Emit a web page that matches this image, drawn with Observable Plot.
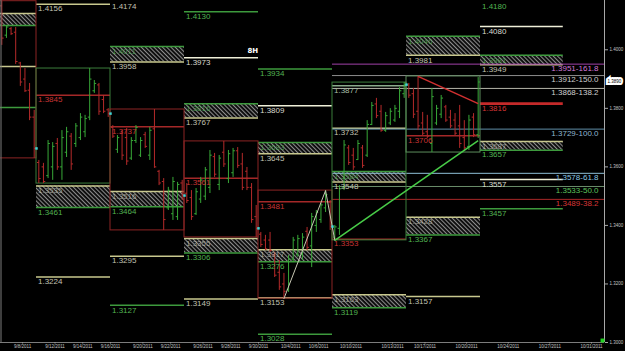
<!DOCTYPE html>
<html><head><meta charset="utf-8">
<script src="https://cdn.jsdelivr.net/npm/d3@7"></script>
<script src="https://cdn.jsdelivr.net/npm/@observablehq/plot@0.6"></script>
<style>
html,body{margin:0;padding:0;background:#000;overflow:hidden}
#chart{width:625px;height:351px}
</style></head><body><div id="chart"></div>
<script>
// ---------- DATA ----------
// 8H bars, bar index 0 = first bar of the week of 9/12/2011, 16 bars per week
const barFirst = -8;
const barOpen = [1.4150,1.4050,1.4072,1.4060,1.3955,1.3900,1.3862,1.3770,
 1.3615,1.3600,1.3570,1.3600,1.3680,1.3600,1.3650,1.3705,1.3680,1.3700,1.3720,1.3770,1.3860,1.3880,1.3830,1.3795,
 1.3735,1.3660,1.3715,1.3700,1.3630,1.3690,1.3640,1.3710,1.3640,1.3730,1.3585,1.3550,1.3460,1.3440,1.3430,1.3545,
 1.3510,1.3495,1.3440,1.3490,1.3500,1.3530,1.3635,1.3540,1.3650,1.3560,1.3580,1.3655,1.3610,1.3585,1.3530,1.3430,
 1.3370,1.3350,1.3350,1.3300,1.3240,1.3200,1.3180,1.3285,1.3300,1.3300,1.3380,1.3330,1.3400,1.3420,1.3460,1.3480,
 1.3360,1.3390,1.3530,1.3665,1.3640,1.3625,1.3665,1.3640,1.3745,1.3815,1.3790,1.3725,1.3750,1.3760,1.3790,1.3850,
 1.3880,1.3850,1.3790,1.3750,1.3720,1.3680,1.3750,1.3780,1.3805,1.3770,1.3760,1.3740,1.3700,1.3670,1.3770,1.3710];
const barHigh = [1.4166,1.4083,1.4076,1.4076,1.3957,1.3936,1.3885,1.3793,
 1.3622,1.3612,1.3690,1.3683,1.3697,1.3724,1.3735,1.3714,1.3748,1.3782,1.3776,1.3936,1.3895,1.3885,1.3844,1.3799,
 1.3741,1.3707,1.3724,1.3731,1.3700,1.3741,1.3700,1.3718,1.3735,1.3796,1.3588,1.3560,1.3530,1.3564,1.3547,1.3554,
 1.3543,1.3519,1.3526,1.3564,1.3598,1.3656,1.3646,1.3639,1.3687,1.3656,1.3663,1.3666,1.3646,1.3598,1.3543,1.3468,
 1.3376,1.3366,1.3376,1.3308,1.3280,1.3236,1.3297,1.3359,1.3366,1.3372,1.3393,1.3441,1.3451,1.3475,1.3519,1.3485,
 1.3400,1.3536,1.3690,1.3673,1.3663,1.3690,1.3673,1.3758,1.3820,1.3834,1.3810,1.3786,1.3799,1.3810,1.3871,1.3888,
 1.3885,1.3868,1.3909,1.3786,1.3776,1.3868,1.3810,1.3844,1.3810,1.3793,1.3782,1.3810,1.3758,1.3776,1.3782,1.3905];
const barLow = [1.4015,1.4039,1.4049,1.3950,1.3875,1.3854,1.3758,1.3629,
 1.3543,1.3543,1.3560,1.3554,1.3588,1.3554,1.3632,1.3588,1.3666,1.3690,1.3700,1.3758,1.3851,1.3776,1.3782,1.3769,
 1.3697,1.3646,1.3622,1.3605,1.3622,1.3680,1.3632,1.3663,1.3622,1.3595,1.3536,1.3383,1.3451,1.3417,1.3417,1.3485,
 1.3475,1.3417,1.3434,1.3475,1.3485,1.3509,1.3564,1.3519,1.3598,1.3543,1.3564,1.3595,1.3519,1.3519,1.3407,1.3359,
 1.3325,1.3314,1.3308,1.3222,1.3178,1.3150,1.3171,1.3273,1.3291,1.3280,1.3314,1.3256,1.3376,1.3407,1.3444,1.3383,
 1.3349,1.3366,1.3519,1.3605,1.3588,1.3622,1.3595,1.3632,1.3741,1.3765,1.3718,1.3718,1.3741,1.3752,1.3765,1.3834,
 1.3834,1.3765,1.3724,1.3707,1.3697,1.3649,1.3741,1.3765,1.3752,1.3731,1.3707,1.3663,1.3653,1.3656,1.3700,1.3697];
const barClose = [1.4040,1.4078,1.4055,1.3960,1.3890,1.3860,1.3770,1.3663,
 1.3560,1.3550,1.3680,1.3670,1.3600,1.3700,1.3720,1.3610,1.3740,1.3770,1.3765,1.3900,1.3885,1.3790,1.3790,1.3782,
 1.3705,1.3700,1.3640,1.3620,1.3690,1.3735,1.3690,1.3670,1.3725,1.3600,1.3545,1.3420,1.3520,1.3550,1.3540,1.3502,
 1.3485,1.3430,1.3515,1.3555,1.3590,1.3640,1.3575,1.3630,1.3610,1.3645,1.3655,1.3605,1.3530,1.3530,1.3420,1.3390,
 1.3335,1.3320,1.3315,1.3230,1.3190,1.3175,1.3285,1.3350,1.3355,1.3360,1.3325,1.3430,1.3445,1.3470,1.3505,1.3396,
 1.3395,1.3525,1.3675,1.3615,1.3600,1.3680,1.3605,1.3745,1.3810,1.3775,1.3725,1.3775,1.3790,1.3800,1.3860,1.3881,
 1.3845,1.3780,1.3740,1.3715,1.3705,1.3840,1.3800,1.3835,1.3760,1.3740,1.3715,1.3680,1.3665,1.3760,1.3710,1.3890];

const barsPerWeek = 16;
const projectionEnd = 113.9;          // weekly levels of the coming week end here
const weekIds  = [-1, 0, 1, 2, 3, 4, 5];
const weekTone = ["bear","bull","bear","bear","bear","bull","open"];

// weekly pivot levels (week id, price, kind)
const levelWeek  = [-1,-1, 0,0,0, 1,1,1,1, 2,2,2,2, 3,3,3,3,3, 4,4,4, 5,5, 6,6,6,6,6];
const levelPrice = [1.3943,1.3803, 1.4156,1.3845,1.3224, 1.4174,1.3737,1.3295,1.3127,
  1.4130,1.3973,1.3561,1.3149, 1.3934,1.3809,1.3481,1.3153,1.3028, 1.3877,1.3732,1.3353,
  1.3706,1.3157, 1.4180,1.4080,1.3816,1.3557,1.3457];
const levelKind  = ["yellow","green", "yellow","red","yellow", "yellow","red","yellow","green",
  "green","white","red","yellow", "green","white","red","yellow","green", "sage","yellow","red",
  "red","yellow", "green","white","redBold","white","green"];

// hatched zones (week id, top, bottom, kind of top line)
const zoneWeek   = [-1, 0, 1,1, 2,2, 3,3, 4,4, 5,5, 6,6];
const zoneTop    = [1.4124,1.3535,1.4011,1.3516,1.3816,1.3355,1.3683,1.3317,1.3584,1.3163,1.4046,1.3428,1.3981,1.3687];
const zoneBottom = [1.4083,1.3461,1.3958,1.3464,1.3767,1.3306,1.3645,1.3276,1.3548,1.3119,1.3981,1.3367,1.3949,1.3657];
const zoneTopKind = ["yellow","yellow","green","yellow","green","yellow","green","yellow","green","yellow","green","yellow","green","yellow"];
const zoneBotKind = zoneTopKind.map(k => k === "green" ? "yellow" : "green");

// Fibonacci extension
const fibRatio = ["161.8","150.0","138.2","100.0","61.8","50.0","38.2"];
const fibPrice = [1.3951,1.3912,1.3868,1.3729,1.3578,1.3533,1.3489];
const fibStartBar = 64;

// zigzag and trend lines
const zigzagBar   = [53, 62, 64];
const zigzagPrice = [1.3150, 1.3519, 1.3349];
const trendFromBar = [64, 82], trendFromPrice = [1.3349, 1.3909];
const trendToBar   = [95, 95], trendToPrice   = [1.3690, 1.3816];
const trendKind    = ["up", "down"];

// axes
const dateLabels = ["9/8/2011","9/12/2011","9/14/2011","9/16/2011","9/20/2011","9/22/2011","9/26/2011","9/28/2011","9/30/2011",
  "10/4/2011","10/6/2011","10/10/2011","10/13/2011","10/17/2011","10/20/2011","10/24/2011","10/27/2011","10/31/2011"];
const dateTickBar = [-3,4,10,16,23,29,36,42,48,55,61,68,77,84,93,102,111,120];
const priceTicks = [1.30,1.32,1.34,1.36,1.38,1.40];
const viewFirstBar = -7.784, viewLastBar = 122.811;
const priceMin = 1.3000, priceMax = 1.41684;

// ---------- BUILD ----------
const fmt = d3.format(".4f");
const bars = barOpen.map((o, i) => ({n: barFirst + i, o, h: barHigh[i], l: barLow[i], c: barClose[i]}));
const span = w => ({x1: w * barsPerWeek, x2: w === 6 ? projectionEnd : w * barsPerWeek + barsPerWeek});
const visible = d => d.x1 >= viewFirstBar;
const labelY = p => Math.min(p, priceMax - 0.0004);   // keep labels of off-top lines inside the frame

const kindColor = {green:"#3d9a3d", yellow:"#c8c88e", white:"#efefd8", red:"#a52828", redBold:"#c42a2a", sage:"#8aaa8a"};
const kindText  = {green:"#52b352", yellow:"#c2c2b2", white:"#dadad0", red:"#c83434", redBold:"#d43434", sage:"#a6bea6"};
const toneColor = {bear:"#8c2424", bull:"#3b7d3b", open:"#5d8d5d"};
const fibStroke = ["#a040a8","#8c8c8c","#b4b4a8","#5f8fa8","#8fc0d8","#6a8c6a","#a82828"];
const fibText   = ["#d27ad8","#cfcfcf","#d0d0d0","#8fb6d0","#8cc8e6","#5cc45c","#d83636"];

const levels = levelPrice.map((p, i) => ({p, kind: levelKind[i], ...span(levelWeek[i])}));
const zones = zoneTop.map((t, i) => ({t, b: zoneBottom[i], tk: zoneTopKind[i], bk: zoneBotKind[i], ...span(zoneWeek[i])}));
const fibs = fibPrice.map((p, i) => ({p, r: fibRatio[i], s: fibStroke[i], tc: fibText[i]}));
const zig = zigzagBar.map((n, i) => ({n, p: zigzagPrice[i]}));
const trends = trendKind.map((k, i) => ({k, n1: trendFromBar[i], p1: trendFromPrice[i], n2: trendToBar[i], p2: trendToPrice[i]}));
const weekBoxes = weekIds.map((w, i) => {
  const wb = bars.filter(d => Math.floor(d.n / barsPerWeek) === w);
  return {...span(w), hi: d3.max(wb, d => d.h), lo: d3.min(wb, d => d.l), tone: weekTone[i], last: wb[wb.length - 1]};
});
const weekCloses = weekBoxes.filter(d => d.tone !== "open").map(d => ({n: d.x2, p: d.last.c}));
const lastBar = bars[bars.length - 1];
const dateOf = new Map(dateTickBar.map((n, i) => [n, dateLabels[i]]));
const up = d => d.c >= d.o;
const barColor = d => up(d) ? "#38a838" : "#b52a2a";

const txt = {fontFamily: "Liberation Sans, Arial, sans-serif", fontSize: 8};

const svg = Plot.plot({
  width: 625, height: 351,
  marginLeft: 0, marginRight: 21, marginTop: 0, marginBottom: 9,
  x: {domain: [viewFirstBar, viewLastBar], axis: null},
  y: {domain: [priceMin, priceMax], axis: null},
  color: {type: "identity"},
  style: {background: "#000", color: "#bdbdbd", fontFamily: "Liberation Sans, Arial, sans-serif"},
  marks: [
    // hatched zones
    Plot.rect(zones, {x1: "x1", x2: "x2", y1: "b", y2: "t", fill: "url(#hatch)"}),
    Plot.ruleY(zones, {y: "t", x1: "x1", x2: "x2", stroke: d => kindColor[d.tk], strokeWidth: 1.5}),
    Plot.ruleY(zones, {y: "b", x1: "x1", x2: "x2", stroke: d => kindColor[d.bk], strokeWidth: 1.5}),
    // weekly levels
    Plot.ruleY(levels.filter(d => d.kind !== "redBold"), {y: "p", x1: "x1", x2: "x2", stroke: d => kindColor[d.kind], strokeWidth: 1.5}),
    Plot.ruleY(levels.filter(d => d.kind === "redBold"), {y: "p", x1: "x1", x2: "x2", stroke: d => kindColor[d.kind], strokeWidth: 2.6}),
    // fibonacci lines
    Plot.ruleY(fibs, {y: "p", x1: fibStartBar, x2: viewLastBar, stroke: "s", strokeWidth: 1}),
    // weekly range boxes
    Plot.rect(weekBoxes, {x1: "x1", x2: "x2", y1: "lo", y2: "hi", fill: "none", stroke: d => toneColor[d.tone], strokeWidth: 1}),
    // bars (high-low with open/close ticks)
    Plot.ruleX(bars, {x: d => d.n + 0.5, y1: "l", y2: "h", stroke: barColor, strokeWidth: 1}),
    Plot.link(bars, {x1: d => d.n + 0.1, x2: d => d.n + 0.5, y1: "o", y2: "o", stroke: barColor, strokeWidth: 1}),
    Plot.link(bars, {x1: d => d.n + 0.5, x2: d => d.n + 0.9, y1: "c", y2: "c", stroke: barColor, strokeWidth: 1}),
    // zigzag and trend lines
    Plot.line(zig, {x: d => d.n + 0.5, y: "p", stroke: "#c8c8b4", strokeWidth: 1}),
    Plot.link(trends, {x1: d => d.n1 + 0.5, y1: "p1", x2: d => d.n2 + 0.5, y2: "p2",
      stroke: d => d.k === "up" ? "#48cc48" : "#d03030", strokeWidth: 1.5}),
    // weekly close markers
    Plot.dot(weekCloses, {x: "n", y: "p", r: 1.4, symbol: "square", fill: "#3fd6d6"}),
    // labels
    Plot.text(levels.filter(visible), {x: "x1", y: d => labelY(d.p), text: d => fmt(d.p), dx: 1.5, dy: 1.5, textAnchor: "start", lineAnchor: "top",
      fill: d => kindText[d.kind], ...txt}),
    Plot.text(zones.filter(visible), {x: "x1", y: "t", text: d => fmt(d.t), dx: 1.5, dy: 1.5, textAnchor: "start", lineAnchor: "top",
      fill: d => kindText[d.tk], fillOpacity: 0.75, ...txt}),
    Plot.text(zones.filter(visible), {x: "x1", y: "b", text: d => fmt(d.b), dx: 1.5, dy: 1.5, textAnchor: "start", lineAnchor: "top",
      fill: d => kindText[d.bk], ...txt}),
    Plot.text(fibs, {x: viewLastBar, y: "p", text: d => fmt(d.p) + "-" + d.r, dx: -6, dy: 1, textAnchor: "end", lineAnchor: "top",
      fill: "tc", ...txt}),
    Plot.text(["8H"], {frameAnchor: "top-left", dx: 247, dy: 47.5, fill: "#fff", fontWeight: "bold", fontSize: 7,
      fontFamily: "DejaVu Sans, sans-serif"}),
    // frame lines
    Plot.ruleY([priceMin], {stroke: "#7c7c7c"}),
    Plot.ruleX([viewFirstBar], {stroke: "#7c7c7c", dx: 0.5}),
    Plot.ruleX([viewLastBar], {stroke: "#a8a8a8"}),
    // axes
    Plot.axisX(dateTickBar, {tickFormat: n => dateOf.get(n), tickSize: 1.5, tickPadding: 1, fontSize: 4.5, stroke: "#9a9a9a", fill: "#c4c4c4"}),
    Plot.axisY({anchor: "right", ticks: priceTicks, tickFormat: ".4f", tickSize: 3, tickPadding: 2, fontSize: 4.5, stroke: "#a8a8a8", fill: "#c4c4c4"}),
    // current price marker
    Plot.text([lastBar], {x: viewLastBar, y: "c", text: d => fmt(d.c), dx: 3, textAnchor: "start", fontSize: 4.5,
      fill: "#000", stroke: "#fff", strokeWidth: 4, strokeLinejoin: "miter"}),
    Plot.dot([lastBar], {frameAnchor: "bottom-right", dx: -2, dy: -2, r: 2.2, symbol: "square", fill: "#22d022"})
  ]
});

const defs = d3.select(svg).insert("defs", ":first-child");
const pat = defs.append("pattern").attr("id", "hatch").attr("patternUnits", "userSpaceOnUse")
  .attr("width", 3).attr("height", 3).attr("patternTransform", "rotate(-45)");
pat.append("rect").attr("width", 3).attr("height", 3).attr("fill", "#080808");
pat.append("rect").attr("width", 1.1).attr("height", 3).attr("fill", "#8c8c8c");

document.getElementById("chart").appendChild(svg);
</script>
</body></html>
